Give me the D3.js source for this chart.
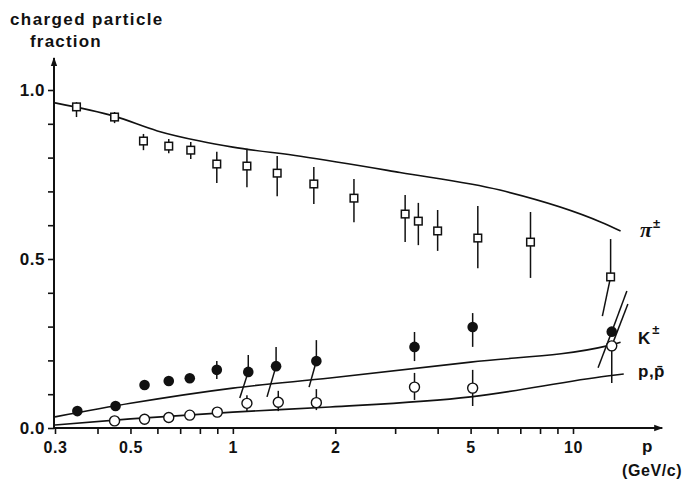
<!DOCTYPE html>
<html><head><meta charset="utf-8">
<script src="https://cdn.jsdelivr.net/npm/d3@7"></script>
<style>
body{margin:0;background:#fff}
text{font-family:"Liberation Sans",Arial,sans-serif;font-weight:bold;fill:#111}
</style>
</head><body>
<svg id="c" width="690" height="482"></svg>
<script>
// ---- axis ticks ----
const xTickValues = [0.3,0.4,0.5,0.6,0.7,0.8,0.9,1,2,3,4,5,6,7,8,9,10];
const xTickLabels = {"0.3":"0.3","0.5":"0.5","1":"1","2":"2","5":"5","10":"10"};
const yTickValues = [0,0.1,0.2,0.3,0.4,0.5,0.6,0.7,0.8,0.9,1.0];
const yTickLabels = {"0":"0.0","0.5":"0.5","1":"1.0"};

// ---- pi± data (open squares) ----
const piP   = [0.347,0.449,0.546,0.648,0.752,0.897,1.10,1.35,1.73,2.27,3.21,3.51,4.0,5.25,7.5,12.9];
const piF   = [0.950,0.920,0.849,0.834,0.822,0.781,0.775,0.754,0.722,0.680,0.633,0.612,0.583,0.562,0.550,0.447];
const piHi  = [0.964,0.935,0.870,0.855,0.846,0.817,0.826,0.805,0.772,0.737,0.689,0.666,0.645,0.657,0.639,0.559];
const piHiP = [0.347,0.449,0.546,0.648,0.752,0.897,1.10,1.35,1.73,2.27,3.21,3.51,4.0,5.25,7.5,12.9];
const piLo  = [0.920,0.902,0.822,0.813,0.796,0.725,0.712,0.686,0.663,0.609,0.550,0.541,0.524,0.473,0.444,0.331];
const piLoP = [0.347,0.449,0.546,0.648,0.752,0.897,1.10,1.35,1.73,2.27,3.21,3.51,4.0,5.25,7.5,12.2];

// ---- K± data (filled circles) ----
const kP   = [0.349,0.452,0.55,0.648,0.747,0.897,1.11,1.34,1.76,3.42,5.07,13.0];
const kF   = [0.050,0.065,0.127,0.139,0.147,0.172,0.166,0.183,0.198,0.240,0.299,0.285];
const kHi  = [0.050,0.065,0.127,0.139,0.147,0.198,0.216,0.240,0.260,0.284,0.340,0.405];
const kHiP = [0.349,0.452,0.55,0.648,0.747,0.897,1.11,1.34,1.76,3.42,5.07,14.4];
const kLo  = [0.050,0.065,0.127,0.139,0.147,0.145,0.089,0.092,0.121,0.198,0.240,0.178];
const kLoP = [0.349,0.452,0.55,0.648,0.747,0.897,1.048,1.26,1.675,3.42,5.07,11.85];

// ---- p, p̄ data (open circles) ----
const pP   = [0.449,0.55,0.648,0.747,0.90,1.10,1.36,1.76,3.42,5.07,13.0];
const pF   = [0.021,0.026,0.031,0.038,0.047,0.073,0.076,0.075,0.121,0.118,0.243];
const pHi  = [0.021,0.026,0.031,0.038,0.047,0.097,0.110,0.115,0.163,0.172,0.367];
const pHiP = [0.449,0.55,0.648,0.747,0.90,1.10,1.36,1.76,3.42,5.07,14.5];
const pLo  = [0.021,0.026,0.031,0.038,0.047,0.047,0.050,0.053,0.083,0.065,0.133];
const pLoP = [0.449,0.55,0.648,0.747,0.90,1.10,1.36,1.76,3.42,5.07,13.0];

// ---- model curves ----
const piCurveP = [0.3,0.45,0.6,0.8,1.0,1.58,3.1,6.1,12.1,13.8];
const piCurveF = [0.962,0.922,0.879,0.849,0.831,0.804,0.756,0.704,0.609,0.583];
const kCurveP  = [0.3,0.5,1.0,1.93,5.0,12.6,13.8];
const kCurveF  = [0.033,0.073,0.118,0.148,0.195,0.243,0.254];
const pCurveP  = [0.3,0.5,1.0,1.93,5.0,12.6,14.1];
const pCurveF  = [0.009,0.027,0.047,0.062,0.092,0.154,0.160];

const svg = d3.select("#c");
const x = d3.scaleLog().domain([0.3,10]).range([55,573]);
const y = d3.scaleLinear().domain([0,1]).range([428,90]);
const xMax = 18.3, yMax = 1.095;

// axes
const ax = svg.append("g").attr("transform","translate(0,428)")
  .call(d3.axisBottom(x).tickValues(xTickValues).tickSize(6).tickPadding(8)
    .tickFormat(d => xTickLabels[String(+d.toFixed(2))] || ""));
ax.select(".domain").remove();
ax.selectAll(".tick line").attr("stroke","#111").attr("stroke-width",1.6);
ax.selectAll("text").style("font-size","16px").style("letter-spacing","0.6px");

const ay = svg.append("g").attr("transform","translate(54,0)")
  .call(d3.axisLeft(y).tickValues(yTickValues).tickSize(6).tickPadding(3)
    .tickFormat(d => yTickLabels[String(+d.toFixed(2))] || ""));
ay.select(".domain").remove();
ay.selectAll(".tick line").attr("stroke","#111").attr("stroke-width",1.6);
ay.selectAll("text").style("font-size","17px").style("letter-spacing","0.5px");

// axis lines with arrows
svg.append("defs").append("marker").attr("id","arr")
  .attr("viewBox","0 0 10 10").attr("refX",9).attr("refY",5)
  .attr("markerWidth",9).attr("markerHeight",9).attr("markerUnits","userSpaceOnUse")
  .attr("orient","auto")
  .append("path").attr("d","M0,1.5 L10,5 L0,8.5 Z").attr("fill","#111");
svg.append("line").attr("x1",x(0.3)-1).attr("x2",x(xMax)).attr("y1",y(0)).attr("y2",y(0))
  .attr("stroke","#111").attr("stroke-width",2).attr("marker-end","url(#arr)");
svg.append("line").attr("x1",x(0.3)-1).attr("x2",x(0.3)-1).attr("y1",y(0)+1).attr("y2",y(yMax))
  .attr("stroke","#111").attr("stroke-width",2).attr("marker-end","url(#arr)");

// curves
const line = d3.line().x(d => x(d[0])).y(d => y(d[1])).curve(d3.curveMonotoneX);
[[piCurveP,piCurveF],[kCurveP,kCurveF],[pCurveP,pCurveF]].forEach(([P,F]) => {
  svg.append("path").datum(P.map((p,i)=>[p,F[i]])).attr("d",line)
    .attr("fill","none").attr("stroke","#111").attr("stroke-width",1.6);
});

// error bars
function bars(P,F,Hi,HiP,Lo,LoP){
  const segs = [];
  P.forEach((p,i)=>{
    if (Hi[i] !== F[i]) segs.push([p,F[i],HiP[i],Hi[i]]);
    if (Lo[i] !== F[i]) segs.push([p,F[i],LoP[i],Lo[i]]);
  });
  svg.append("g").selectAll("line").data(segs).join("line")
    .attr("x1",d=>x(d[0])).attr("y1",d=>y(d[1]))
    .attr("x2",d=>x(d[2])).attr("y2",d=>y(d[3]))
    .attr("stroke","#111").attr("stroke-width",1.5);
}
bars(piP,piF,piHi,piHiP,piLo,piLoP);
bars(kP,kF,kHi,kHiP,kLo,kLoP);
bars(pP,pF,pHi,pHiP,pLo,pLoP);

// markers
svg.append("g").selectAll("rect").data(piP.map((p,i)=>[p,piF[i]])).join("rect")
  .attr("x",d=>x(d[0])-3.8).attr("y",d=>y(d[1])-3.8).attr("width",7.6).attr("height",7.6)
  .attr("fill","#fff").attr("stroke","#111").attr("stroke-width",1.5);
svg.append("g").selectAll("circle").data(pP.map((p,i)=>[p,pF[i]])).join("circle")
  .attr("cx",d=>x(d[0])).attr("cy",d=>y(d[1])).attr("r",5)
  .attr("fill","#fff").attr("stroke","#111").attr("stroke-width",1.4);
svg.append("g").selectAll("circle").data(kP.map((p,i)=>[p,kF[i]])).join("circle")
  .attr("cx",d=>x(d[0])).attr("cy",d=>y(d[1])).attr("r",5.3)
  .attr("fill","#111");

// labels
svg.append("text").attr("x",10).attr("y",25).style("font-size","17px").style("letter-spacing","1.4px")
  .text("charged particle");
svg.append("text").attr("x",30).attr("y",47).style("font-size","17px").style("letter-spacing","1.2px")
  .text("fraction");
svg.append("text").attr("x",642).attr("y",452).style("font-size","17px").text("p");
svg.append("text").attr("x",622).attr("y",476).style("font-size","16px").style("letter-spacing","0.6px").text("(GeV/c)");

const pi = svg.append("text").attr("x",640).attr("y",237);
pi.append("tspan").style("font-family","'Liberation Serif','DejaVu Serif',serif")
  .style("font-style","italic").style("font-size","22px").text("π");
pi.append("tspan").attr("dy",-9).attr("dx",1).style("font-size","13px").text("±");

const k = svg.append("text").attr("x",638).attr("y",344);
k.append("tspan").style("font-size","17px").text("K");
k.append("tspan").attr("dy",-10).attr("dx",2).style("font-size","13px").text("±");

svg.append("text").attr("x",638).attr("y",377).style("font-size","17px").style("letter-spacing","0.5px")
  .text("p,p\u0304");
</script>
</body></html>
